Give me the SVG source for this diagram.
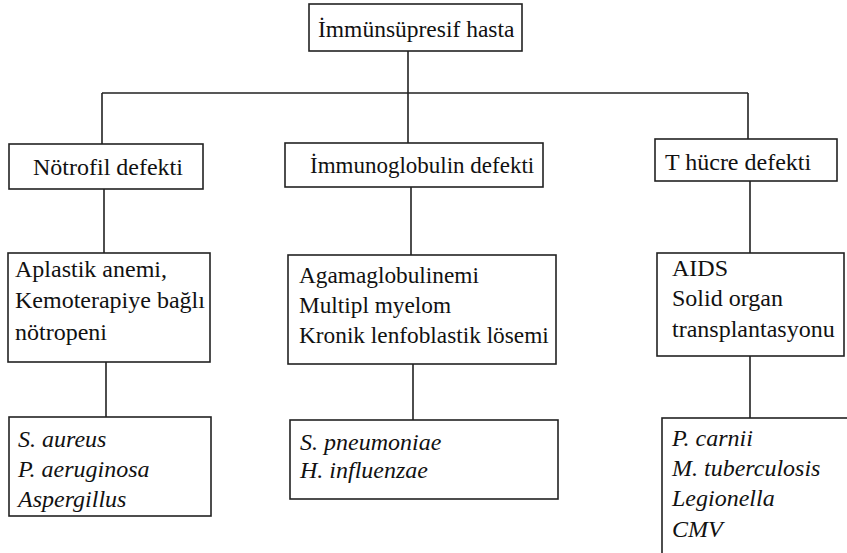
<svg xmlns="http://www.w3.org/2000/svg" width="847" height="553" viewBox="0 0 847 553">
<rect width="847" height="553" fill="#fff"/>
<g id="connectors" stroke="#222" stroke-width="1.6" fill="none">
<path d="M408 51V144M102 93H748M102 93V144M748 93V139M104 189V253M411 187V255M750 181V253M106 362V417M413 364V420M750 356V418"/>
</g>
<g id="root"><rect fill="#fff" stroke="#222" stroke-width="1.6" x="309" y="4" width="213" height="47"/><text x="318" y="37" font-size="23.5" font-family="Liberation Serif" fill="#111" style="font-family:'Liberation Serif',serif">İmmünsüpresif hasta</text></g>
<g id="notrofil"><rect fill="#fff" stroke="#222" stroke-width="1.6" x="9" y="144" width="194" height="45"/><text x="33" y="175" font-size="24" font-family="Liberation Serif" fill="#111" style="font-family:'Liberation Serif',serif">Nötrofil defekti</text></g>
<g id="immunoglobulin"><rect fill="#fff" stroke="#222" stroke-width="1.6" x="285" y="143" width="258" height="44"/><text x="310" y="173" font-size="23" font-family="Liberation Serif" fill="#111" style="font-family:'Liberation Serif',serif">İmmunoglobulin defekti</text></g>
<g id="thucre"><rect fill="#fff" stroke="#222" stroke-width="1.6" x="655" y="139" width="182" height="42"/><text x="665" y="170" font-size="24" font-family="Liberation Serif" fill="#111" style="font-family:'Liberation Serif',serif">T hücre defekti</text></g>
<g id="aplastik"><rect fill="#fff" stroke="#222" stroke-width="1.6" x="8" y="253" width="202" height="109"/><text x="15" y="277" font-size="24" font-family="Liberation Serif" fill="#111" style="font-family:'Liberation Serif',serif">Aplastik anemi,</text><text x="15" y="308" font-size="24" font-family="Liberation Serif" fill="#111" style="font-family:'Liberation Serif',serif">Kemoterapiye bağlı</text><text x="15" y="340" font-size="24" font-family="Liberation Serif" fill="#111" style="font-family:'Liberation Serif',serif">nötropeni</text></g>
<g id="agama"><rect fill="#fff" stroke="#222" stroke-width="1.6" x="288" y="255" width="268" height="109"/><text x="299" y="283" font-size="23.3" font-family="Liberation Serif" fill="#111" style="font-family:'Liberation Serif',serif">Agamaglobulinemi</text><text x="299" y="313" font-size="23.3" font-family="Liberation Serif" fill="#111" style="font-family:'Liberation Serif',serif">Multipl myelom</text><text x="299" y="343" font-size="23.3" font-family="Liberation Serif" fill="#111" style="font-family:'Liberation Serif',serif">Kronik lenfoblastik lösemi</text></g>
<g id="aids"><rect fill="#fff" stroke="#222" stroke-width="1.6" x="657" y="253" width="187" height="103"/><text x="672" y="276" font-size="24" font-family="Liberation Serif" fill="#111" style="font-family:'Liberation Serif',serif">AIDS</text><text x="672" y="306" font-size="24" font-family="Liberation Serif" fill="#111" style="font-family:'Liberation Serif',serif">Solid organ</text><text x="672" y="337" font-size="24" font-family="Liberation Serif" fill="#111" style="font-family:'Liberation Serif',serif">transplantasyonu</text></g>
<g id="org1"><rect fill="#fff" stroke="#222" stroke-width="1.6" x="9" y="417" width="202" height="99"/><text x="18" y="447" font-size="24" font-family="Liberation Serif" font-style="italic" fill="#111" style="font-family:'Liberation Serif',serif">S. aureus</text><text x="18" y="477" font-size="24" font-family="Liberation Serif" font-style="italic" fill="#111" style="font-family:'Liberation Serif',serif">P. aeruginosa</text><text x="18" y="507" font-size="24" font-family="Liberation Serif" font-style="italic" fill="#111" style="font-family:'Liberation Serif',serif">Aspergillus</text></g>
<g id="org2"><rect fill="#fff" stroke="#222" stroke-width="1.6" x="290" y="420" width="268" height="79"/><text x="300" y="450" font-size="24" font-family="Liberation Serif" font-style="italic" fill="#111" style="font-family:'Liberation Serif',serif">S. pneumoniae</text><text x="300" y="478" font-size="24" font-family="Liberation Serif" font-style="italic" fill="#111" style="font-family:'Liberation Serif',serif">H. influenzae</text></g>
<g id="org3"><rect fill="#fff" stroke="#222" stroke-width="1.6" x="662" y="418" width="186" height="150"/><text x="672" y="446" font-size="24" font-family="Liberation Serif" font-style="italic" fill="#111" style="font-family:'Liberation Serif',serif">P. carnii</text><text x="672" y="476" font-size="24" font-family="Liberation Serif" font-style="italic" fill="#111" style="font-family:'Liberation Serif',serif">M. tuberculosis</text><text x="672" y="506" font-size="24" font-family="Liberation Serif" font-style="italic" fill="#111" style="font-family:'Liberation Serif',serif">Legionella</text><text x="672" y="537" font-size="24" font-family="Liberation Serif" font-style="italic" fill="#111" style="font-family:'Liberation Serif',serif">CMV</text></g>
</svg>
